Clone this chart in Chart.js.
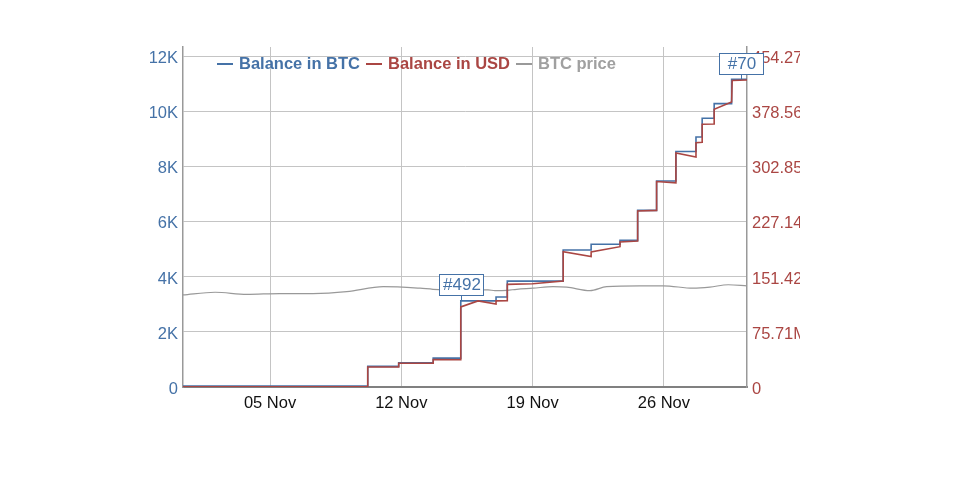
<!DOCTYPE html>
<html lang="en">
  <head>
    <meta charset="UTF-8" />
    <meta name="viewport" content="width=device-width, initial-scale=1.0" />
    <title>Balance in BTC / USD</title>
    <style>
      body {
        margin: 0;
        background: #fff;
        font-family: "Liberation Sans", Arial, Helvetica, sans-serif;
      }
      #wrap {
        width: 800px;
        height: 494px;
        overflow: hidden;
      }
    </style>
    <script src="https://cdn.jsdelivr.net/npm/chart.js"></script>
  </head>
  <body>
    <div id="wrap">
      <canvas id="balanceChart" width="830" height="494"></canvas>
    </div>

    <script>
      // x values are days of November (fractional days)
      const btcDays = [0.36, 10.21, 11.86, 13.7, 15.17, 17.05, 17.65, 20.63, 22.12, 23.66, 24.6, 25.61, 26.64, 27.71, 28.04, 28.68, 29.61, 30.43];
      const btcBalance = [30, 750, 880, 1050, 3130, 3270, 3850, 4980, 5190, 5330, 6420, 7490, 8560, 9090, 9770, 10300, 11190, 11190];

      // balance in USD, millions
      const usdDays = [0.36, 10.21, 10.21, 11.86, 11.86, 13.7, 13.7, 15.17, 15.17, 16.09, 17.05, 17.05, 17.65, 17.65, 19.0, 20.63, 20.63, 22.12, 22.12, 23.66, 23.66, 24.6, 24.6, 25.61, 25.61, 26.64, 26.64, 27.71, 27.71, 28.04, 28.04, 28.68, 28.68, 29.61, 29.64, 30.43];
      const usdBalance = [0.4, 0.4, 27.6, 27.6, 32.6, 32.6, 37.9, 37.5, 110.2, 118.5, 114.3, 118.5, 118.9, 141.2, 142.0, 145.7, 186.2, 179.4, 185.9, 193.1, 199.5, 201.0, 242.3, 243.0, 282.8, 280.9, 322.1, 316.5, 336.2, 336.9, 361.5, 361.9, 382.3, 392.2, 421.7, 422.5];

      // BTC price, USD
      const priceDays = [0.36, 2.07, 3.76, 5.53, 7.29, 9.09, 11.04, 13.0, 13.69, 15.18, 16.62, 16.99, 17.63, 18.15, 19.02, 20.09, 20.82, 22.06, 22.95, 24.72, 25.96, 27.56, 28.45, 29.43, 30.43];
      const btcPrice = [34400, 35400, 34600, 34900, 34900, 35600, 37500, 36900, 36500, 36300, 36300, 36000, 36100, 36500, 36900, 37500, 37300, 36000, 37500, 37800, 37800, 36900, 37300, 38200, 37800];

      const xTickDays = [5, 12, 19, 26];
      const xTickLabels = ["05 Nov", "12 Nov", "19 Nov", "26 Nov"];
      const btcTicks = [0, 2000, 4000, 6000, 8000, 10000, 12000];
      const btcTickLabels = ["0", "2K", "4K", "6K", "8K", "10K", "12K"];
      const usdTicks = [0, 75.71, 151.42, 227.14, 302.85, 378.56, 454.27];
      const usdTickLabels = ["0", "75.71M", "151.42M", "227.14M", "302.85M", "378.56M", "454.27M"];

      const seriesNames = ["Balance in BTC", "Balance in USD", "BTC price"];
      const seriesColors = ["#4572A7", "#AA4643", "#999999"];

      const flagDays = [15.17, 30.13];
      const flagValues = [3130, 11190];
      const flagLabels = ["#492", "#70"];

      const FONT = "'Liberation Sans', Arial, Helvetica, sans-serif";

      // legend drawn inside the plot area, top left
      const legendPlugin = {
        id: "insideLegend",
        afterDraw(chart) {
          const ctx = chart.ctx;
          let x = 217;
          const y = 64;
          ctx.save();
          ctx.font = "bold 16.5px " + FONT;
          ctx.textBaseline = "middle";
          seriesNames.forEach((name, i) => {
            ctx.strokeStyle = seriesColors[i];
            ctx.lineWidth = 2;
            ctx.beginPath();
            ctx.moveTo(x, y);
            ctx.lineTo(x + 16, y);
            ctx.stroke();
            ctx.fillStyle = i === 2 ? "#a0a0a0" : seriesColors[i];
            ctx.fillText(name, x + 22, y);
            x += 22 + ctx.measureText(name).width + 6;
          });
          ctx.restore();
        },
      };

      // flag boxes pinned to points of the BTC series
      const flagPlugin = {
        id: "flags",
        afterDraw(chart) {
          const ctx = chart.ctx;
          const xs = chart.scales.x;
          const ys = chart.scales.yBtc;
          ctx.save();
          flagLabels.forEach((label, i) => {
            const px = Math.round(xs.getPixelForValue(flagDays[i]));
            const py = ys.getPixelForValue(flagValues[i]);
            const w = 44;
            const h = 21;
            const bottom = Math.round(py - 5.5);
            ctx.strokeStyle = "#4572A7";
            ctx.lineWidth = 1;
            ctx.beginPath();
            ctx.moveTo(px + 0.5, bottom);
            ctx.lineTo(px + 0.5, py);
            ctx.stroke();
            ctx.fillStyle = "#fff";
            ctx.fillRect(px - w / 2, bottom - h, w, h);
            ctx.strokeRect(px - w / 2 + 0.5, bottom - h + 0.5, w, h);
            ctx.fillStyle = "#4572A7";
            ctx.font = "17px " + FONT;
            ctx.textAlign = "center";
            ctx.textBaseline = "middle";
            ctx.fillText(label, px + 1, bottom - h / 2 + 1);
          });
          ctx.restore();
        },
      };

      const ctx = document.getElementById("balanceChart").getContext("2d");
      new Chart(ctx, {
        type: "line",
        data: {
          datasets: [
            {
              label: seriesNames[1],
              data: usdDays.map((d, i) => ({ x: d, y: usdBalance[i] })),
              yAxisID: "yUsd",
              borderColor: seriesColors[1],
              borderWidth: 1.6,
              pointRadius: 0,
              tension: 0,
            },
            {
              label: seriesNames[0],
              data: btcDays.map((d, i) => ({ x: d, y: btcBalance[i] })),
              yAxisID: "yBtc",
              borderColor: seriesColors[0],
              borderWidth: 1.6,
              pointRadius: 0,
              stepped: "before",
            },
            {
              label: seriesNames[2],
              data: priceDays.map((d, i) => ({ x: d, y: btcPrice[i] })),
              yAxisID: "yPrice",
              borderColor: seriesColors[2],
              borderWidth: 1.2,
              pointRadius: 0,
              cubicInterpolationMode: "monotone",
            },
          ],
        },
        options: {
          responsive: false,
          animation: false,
          layout: {
            padding: { left: 123, top: 47, right: 0, bottom: 67 },
          },
          plugins: {
            legend: { display: false },
            tooltip: { enabled: false },
          },
          scales: {
            x: {
              type: "linear",
              min: 0.36,
              max: 30.43,
              afterBuildTicks: (scale) => {
                scale.ticks = xTickDays.map((v) => ({ value: v }));
              },
              afterFit: (scale) => {
                scale.height = 40;
              },
              ticks: {
                callback: (v) => xTickLabels[xTickDays.indexOf(v)],
                color: "#111",
                font: { family: FONT, size: 16.5 },
                padding: 7,
                maxRotation: 0,
                autoSkip: false,
              },
              grid: { color: "#c4c4c4", drawTicks: false },
              border: { display: true, color: "#808080", width: 2 },
            },
            yBtc: {
              position: "left",
              min: 0,
              max: 12360,
              afterBuildTicks: (scale) => {
                scale.ticks = btcTicks.map((v) => ({ value: v }));
              },
              afterFit: (scale) => {
                scale.width = 60;
              },
              ticks: {
                callback: (v) => btcTickLabels[btcTicks.indexOf(v)],
                color: "#4572A7",
                font: { family: FONT, size: 16.5 },
                padding: 5,
                labelOffset: 2,
                autoSkip: false,
              },
              grid: { color: "#c4c4c4", drawTicks: false },
              border: { display: true, color: "#999", width: 1.5 },
            },
            yUsd: {
              position: "right",
              min: 0,
              max: 467.9,
              afterBuildTicks: (scale) => {
                scale.ticks = usdTicks.map((v) => ({ value: v }));
              },
              afterFit: (scale) => {
                scale.width = 83;
              },
              ticks: {
                callback: (v) => usdTickLabels[usdTicks.indexOf(v)],
                color: "#AA4643",
                font: { family: FONT, size: 16.5 },
                padding: 5,
                labelOffset: 2,
                autoSkip: false,
              },
              grid: { display: false, drawTicks: false },
              border: { display: true, color: "#999", width: 1.5 },
            },
            yPrice: {
              display: false,
              min: 0,
              max: 127000,
            },
          },
        },
        plugins: [legendPlugin, flagPlugin],
      });
    </script>
  </body>
</html>
